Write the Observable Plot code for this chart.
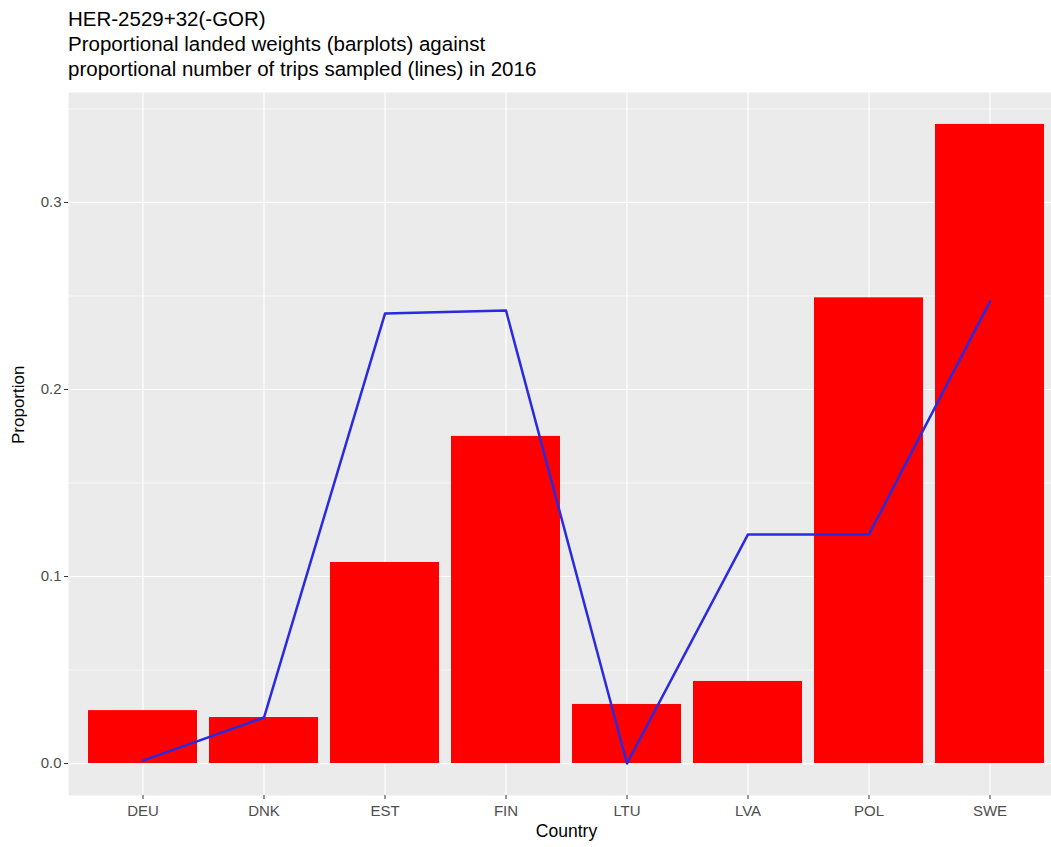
<!DOCTYPE html>
<html>
<head>
<meta charset="utf-8">
<script src="https://cdn.jsdelivr.net/npm/d3@7"></script>
<script src="https://cdn.jsdelivr.net/npm/@observablehq/plot@0.6"></script>
<style>
  html, body { margin: 0; padding: 0; background: #fff; overflow: hidden; }
  body { width: 1051px; height: 847px; font-family: "Liberation Sans", Arial, sans-serif; }
  #title { height: 92px; box-sizing: border-box; padding: 6px 0 0 68px; font-size: 20.5px; line-height: 25px; color: #000; }
  #chart { width: 1051px; overflow: hidden; }
  #chart svg { overflow: hidden; max-width: none !important; }
</style>
</head>
<body>
<div id="title">
  <div>HER-2529+32(-GOR)</div>
  <div>Proportional landed weights (barplots) against</div>
  <div>proportional number of trips sampled (lines) in 2016</div>
</div>
<div id="chart"></div>
<script>
const countries = ["DEU", "DNK", "EST", "FIN", "LTU", "LVA", "POL", "SWE"];
const landedWeights = [0.0283, 0.0246, 0.1075, 0.1749, 0.0316, 0.0439, 0.2490, 0.3417];
const tripsSampled = [0.0016, 0.0246, 0.2406, 0.2422, 0.0000, 0.1225, 0.1225, 0.2470];
const majorTicks = [0.0, 0.1, 0.2, 0.3];
const minorTicks = [0.05, 0.15, 0.25, 0.35];

const bars = countries.map((c, i) => ({country: c, value: landedWeights[i]}));
const lines = countries.map((c, i) => ({country: c, value: tripsSampled[i]}));

const yMax = d3.max(landedWeights);
const pad = yMax * 0.05;

const chart = Plot.plot({
  width: 1064,
  height: 755,
  marginLeft: 68,
  marginRight: 0,
  marginTop: 0,
  marginBottom: 52,
  style: {fontFamily: "'Liberation Sans', Arial, sans-serif", background: "#fff", maxWidth: "none"},
  x: {type: "band", domain: countries, paddingInner: 0.1, paddingOuter: 0.15, label: null},
  y: {domain: [-pad, yMax + pad], label: null},
  marks: [
    Plot.frame({fill: "#ebebeb", stroke: "none"}),
    Plot.gridY(minorTicks, {stroke: "#fff", strokeOpacity: 1, strokeWidth: 0.6}),
    Plot.gridY(majorTicks, {stroke: "#fff", strokeOpacity: 1, strokeWidth: 1.2}),
    Plot.gridX(countries, {stroke: "#fff", strokeOpacity: 1, strokeWidth: 1.2}),
    Plot.barY(bars, {x: "country", y: "value", fill: "#ff0000"}),
    Plot.line(lines, {x: "country", y: "value", stroke: "#2a2ae0", strokeWidth: 2.5}),
    Plot.axisY(majorTicks, {tickSize: 4, tickPadding: 3, tickFormat: d3.format(".1f"), fontSize: 15, color: "#4d4d4d", stroke: "#333", label: null}),
    Plot.axisX(countries, {tickSize: 4, tickPadding: 6, fontSize: 15, color: "#4d4d4d", stroke: "#333", label: null}),
    Plot.text(["Proportion"], {frameAnchor: "left", rotate: -90, dx: -50, fontSize: 17, fill: "#000", text: d => d}),
    Plot.text(["Country"], {frameAnchor: "bottom", dy: 41, fontSize: 17.5, fill: "#000", text: d => d})
  ]
});
document.getElementById("chart").appendChild(chart);
</script>
</body>
</html>
